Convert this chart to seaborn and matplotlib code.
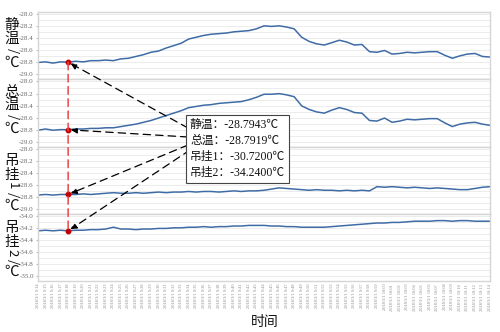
import matplotlib
matplotlib.use("Agg")
import matplotlib.pyplot as plt
import seaborn as sns
import numpy as np
import pandas as pd
from matplotlib.patches import ConnectionPatch

# ---------------- data ----------------
tick_labels = [f"2018/3/1 {9 + (14 + k) // 60}:{(14 + k) % 60:02d}" for k in range(61)]

static_temp = [-28.80, -28.79, -28.81, -28.79, -28.7943, -28.78, -28.79, -28.77, -28.77, -28.76,
               -28.77, -28.74, -28.73, -28.70, -28.67, -28.63, -28.61, -28.56, -28.52, -28.48,
               -28.41, -28.38, -28.35, -28.33, -28.32, -28.31, -28.29, -28.28, -28.27, -28.24,
               -28.19, -28.20, -28.19, -28.21, -28.24, -28.38, -28.45, -28.49, -28.51, -28.47,
               -28.43, -28.46, -28.51, -28.50, -28.62, -28.63, -28.60, -28.66, -28.65, -28.63,
               -28.64, -28.63, -28.62, -28.62, -28.68, -28.73, -28.69, -28.66, -28.65, -28.70,
               -28.71]
total_temp = [-28.80, -28.78, -28.80, -28.79, -28.7919, -28.78, -28.78, -28.77, -28.77, -28.76,
              -28.76, -28.74, -28.72, -28.70, -28.67, -28.64, -28.60, -28.56, -28.52, -28.48,
              -28.43, -28.41, -28.39, -28.38, -28.36, -28.35, -28.34, -28.33, -28.30, -28.26,
              -28.21, -28.21, -28.20, -28.22, -28.25, -28.40, -28.46, -28.50, -28.52, -28.47,
              -28.43, -28.46, -28.51, -28.52, -28.64, -28.65, -28.60, -28.67, -28.65, -28.62,
              -28.63, -28.62, -28.61, -28.61, -28.68, -28.74, -28.70, -28.68, -28.67, -28.70,
              -28.72]
hang1_temp = [-28.76, -28.75, -28.76, -28.75, -28.75, -28.75, -28.74, -28.75, -28.74, -28.73,
              -28.72, -28.73, -28.73, -28.72, -28.73, -28.72, -28.71, -28.72, -28.71, -28.71,
              -28.70, -28.71, -28.70, -28.70, -28.71, -28.70, -28.69, -28.70, -28.69, -28.69,
              -28.68, -28.66, -28.64, -28.65, -28.66, -28.67, -28.68, -28.67, -28.68, -28.68,
              -28.69, -28.68, -28.69, -28.68, -28.69, -28.62, -28.63, -28.62, -28.63, -28.64,
              -28.63, -28.64, -28.65, -28.64, -28.65, -28.66, -28.67, -28.67, -28.65, -28.63,
              -28.62]
hang2_temp = [-34.24, -34.23, -34.24, -34.23, -34.24, -34.23, -34.23, -34.22, -34.22, -34.21,
              -34.18, -34.21, -34.21, -34.22, -34.21, -34.21, -34.20, -34.20, -34.19, -34.19,
              -34.18, -34.18, -34.17, -34.18, -34.17, -34.17, -34.16, -34.16, -34.15, -34.15,
              -34.15, -34.16, -34.16, -34.17, -34.17, -34.18, -34.18, -34.18, -34.18, -34.17,
              -34.16, -34.15, -34.14, -34.13, -34.12, -34.11, -34.11, -34.10, -34.10, -34.09,
              -34.08, -34.08, -34.08, -34.07, -34.07, -34.08, -34.07, -34.07, -34.08, -34.08,
              -34.08]

series = [static_temp, total_temp, hang1_temp, hang2_temp]
y_ranges = [(-29.0, -28.0), (-29.0, -28.0), (-29.0, -28.0), (-35.0, -34.0)]
y_labels = [
    [("静", 25, 0), ("温", 39, 0), ("/", 51, -90), ("℃", 63, 0)],
    [("总", 92, 0), ("温", 105, 0), ("/", 117, -90), ("℃", 129, 0)],
    [("吊", 161, 0), ("挂", 175, 0), ("1", 186, -90), ("/", 195, -90), ("℃", 206, 0)],
    [("吊", 228, 0), ("挂", 242, 0), ("2", 253, -90), ("/", 262, -90), ("℃", 272, 0)],
]
box_text = "静温：-28.7943℃\n总温：-28.7919℃\n吊挂1：-30.7200℃\n吊挂2：-34.2400℃"
mark_index = 4

# ---------------- style ----------------
sns.set_style("white")
plt.rcParams['font.family'] = ['Liberation Serif', 'Noto Sans CJK SC', 'DejaVu Sans']

W, H = 500, 332
fig = plt.figure(figsize=(W / 100, H / 100), dpi=100)

frames = [(12, 79), (79, 147), (147, 214), (214, 281)]
left_px, right_px = 38, 490
line_color = "#3f6ca6"
grid_color = "#ececec"
spine_color = "#d6d6d6"

x = np.arange(len(tick_labels))
axes = []
for k, (top, bot) in enumerate(frames):
    ax = fig.add_axes([left_px / W, 1 - bot / H, (right_px - left_px) / W, (bot - top) / H])
    df = pd.DataFrame({"t": x, "v": series[k]})
    sns.lineplot(data=df, x="t", y="v", ax=ax, color=line_color, lw=1.1)
    lo, hi = y_ranges[k]
    ax.set_ylim(lo - 0.075, hi + 0.04)
    ax.set_xlim(x[0], x[-1])
    ax.set_yticks(np.round(np.arange(lo, hi + 0.001, 0.2), 1))
    ax.set_yticks(np.round(np.arange(lo, hi + 0.001, 0.1), 1), minor=True)
    ax.yaxis.set_major_formatter(matplotlib.ticker.FormatStrFormatter('%.1f'))
    ax.grid(True, axis='y', which='both', color=grid_color, lw=0.7)
    ax.set_axisbelow(True)
    ax.tick_params(axis='y', which='major', labelsize=5, labelcolor="#6a6a6a", length=1.5,
                   color="#bbbbbb", pad=1.5, left=True)
    ax.tick_params(axis='y', which='minor', length=0)
    ax.set_xlabel("")
    ax.set_ylabel("")
    for s in ax.spines.values():
        s.set_color(spine_color)
        s.set_linewidth(1.0)
    if k < 3:
        ax.set_xticks(x)
        ax.set_xticklabels([])
        ax.tick_params(axis='x', length=0)
    else:
        ax.set_xticks(x)
        ax.set_xticklabels(tick_labels, rotation=90, fontsize=3.2, color="#8a8a8a")
        ax.tick_params(axis='x', length=0, pad=2)
    axes.append(ax)

# y labels as stacked characters
for chars in y_labels:
    for ch, ypx, rot in chars:
        fs = 10.5 if rot == 0 else 9.5
        fig.text(12 / W, 1 - ypx / H, ch, ha='center', va='center', fontsize=fs,
                 rotation=rot, family=['Noto Sans CJK SC', 'DejaVu Sans'], color="#111111")

fig.text(265 / W, 1 - 322 / H, "时间", ha='center', va='center', fontsize=10,
         family=['Noto Sans CJK SC'], color="#111111")

# red dashed vertical marker across panels
con = ConnectionPatch(xyA=(mark_index, series[0][mark_index]), coordsA=axes[0].transData,
                      xyB=(mark_index, series[3][mark_index]), coordsB=axes[3].transData,
                      color="#e8474a", lw=1.1, linestyle=(0, (5, 3)), zorder=5)
fig.add_artist(con)

tails = [(188, 128), (188, 137), (188, 145), (190, 150)]
for k, ax in enumerate(axes):
    ax.plot([mark_index], [series[k][mark_index]], 'o', color="#c00000", ms=3.2, zorder=10,
            clip_on=False)
    tx, ty = tails[k]
    arrow = ConnectionPatch(xyA=(tx, H - ty), coordsA='figure pixels',
                            xyB=(mark_index, series[k][mark_index]), coordsB=ax.transData,
                            arrowstyle='-|>', color='black', lw=0.9,
                            linestyle=(0, (6, 4)), mutation_scale=9,
                            shrinkA=0, shrinkB=2, zorder=15)
    fig.add_artist(arrow)

fig.text(190 / W, 1 - 149 / H, box_text, ha='left', va='center', fontsize=8.5,
         linespacing=1.45, color="#111111",
         bbox=dict(boxstyle='square,pad=0.35', fc='white', ec='#444444', lw=0.8),
         zorder=20)

fig.savefig("out.png", dpi=100)
